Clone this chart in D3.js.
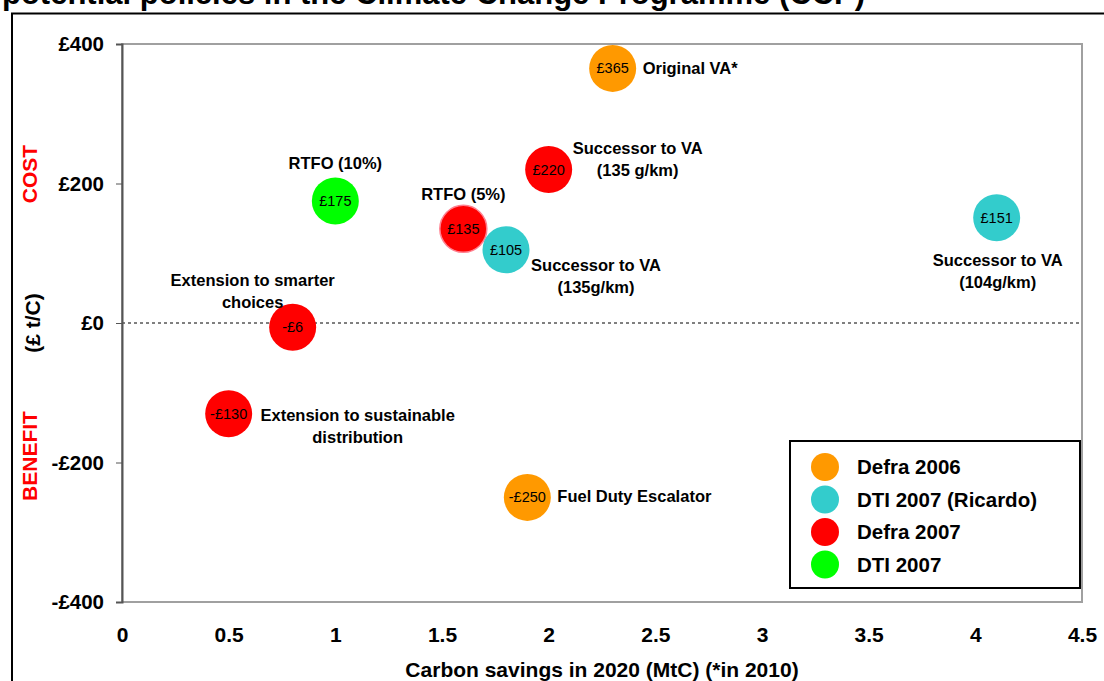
<!DOCTYPE html>
<html>
<head>
<meta charset="utf-8">
<script src="https://cdn.jsdelivr.net/npm/d3@7"></script>
<style>
  body { margin: 0; background: #fff; }
  svg { display: block; font-family: "Liberation Sans", Arial, sans-serif; }
</style>
</head>
<body>
<div id="okvir"></div>
<script>
// podatci
const serije = ["Defra 2006", "DTI 2007 (Ricardo)", "Defra 2007", "DTI 2007"];
const boje = ["#ff9900", "#33cccc", "#ff0000", "#00ff00"];

const usteda = [2.3, 2.0, 1.6, 1.8, 1.0, 0.8, 0.5, 1.9, 4.1];
const trosak = [365, 220, 135, 105, 175, -6, -130, -250, 151];
const serijaTocke = [0, 2, 2, 1, 3, 2, 2, 0, 1];
const oznakeTocke = ["£365", "£220", "£135", "£105", "£175", "-£6", "-£130", "-£250", "£151"];
const nazivi = [
  ["Original VA*"],
  ["Successor to VA", "(135 g/km)"],
  ["RTFO (5%)"],
  ["Successor to VA", "(135g/km)"],
  ["RTFO (10%)"],
  ["Extension to smarter", "choices"],
  ["Extension to sustainable", "distribution"],
  ["Fuel Duty Escalator"],
  ["Successor to VA", "(104g/km)"]
];
// gdje ide naziv u odnosu na tocku (pomak u px + poravnanje)
const pomaci = [
  [30, 6, "start"],
  [89, -16, "middle"],
  [0, -29, "middle"],
  [90, 21, "middle"],
  [0, -32, "middle"],
  [-40, -41, "middle"],
  [129, 7, "middle"],
  [30, 5, "start"],
  [1, 48, "middle"]
];

const xTicks = [0, 0.5, 1, 1.5, 2, 2.5, 3, 3.5, 4, 4.5];
const yTicks = [-400, -200, 0, 200, 400];

const dimenzije = {
  sirina: 1104,
  visina: 681,
  margine: { top: 44, right: 22, bottom: 79, left: 122 }
};
dimenzije.grSirina = dimenzije.sirina - dimenzije.margine.left - dimenzije.margine.right;
dimenzije.grVisina = dimenzije.visina - dimenzije.margine.top - dimenzije.margine.bottom;

const okvir = d3.select("#okvir").append("svg")
  .attr("width", dimenzije.sirina)
  .attr("height", dimenzije.visina);

// naslov (odrezan na vrhu)
okvir.append("text")
  .attr("x", 2).attr("y", 4)
  .style("font-size", "31px").style("font-weight", "bold")
  .text("potential policies in the Climate Change Programme (CCP)");

// vanjski okvir
okvir.append("path")
  .attr("d", `M12,${dimenzije.visina} V13.5 H${dimenzije.sirina}`)
  .attr("fill", "none").attr("stroke", "#000").attr("stroke-width", 2);

const granice = okvir.append("g")
  .attr("transform", `translate(${dimenzije.margine.left},${dimenzije.margine.top})`);

const xSkala = d3.scaleLinear().domain([0, 4.5]).range([0, dimenzije.grSirina]);
const ySkala = d3.scaleLinear().domain([-400, 400]).range([dimenzije.grVisina, 0]);

// okvir podrucja crtanja
granice.append("rect")
  .attr("width", dimenzije.grSirina).attr("height", dimenzije.grVisina)
  .attr("fill", "none").attr("stroke", "#a0a0a0").attr("stroke-width", 2);

// nulta linija
granice.append("line")
  .attr("x1", 0).attr("x2", dimenzije.grSirina)
  .attr("y1", ySkala(0)).attr("y2", ySkala(0))
  .attr("stroke", "#000").attr("stroke-dasharray", "3,3");

const yOs = granice.append("g")
  .call(d3.axisLeft(ySkala).tickValues(yTicks).tickSize(6).tickPadding(12)
    .tickFormat(d => (d < 0 ? "-£" : "£") + Math.abs(d)));
yOs.select(".domain").attr("stroke", "#555").attr("stroke-width", 2);
yOs.selectAll(".tick line").attr("stroke", "#555");
yOs.selectAll("text").style("font-size", "20.5px").style("font-weight", "bold").attr("fill", "#000");

const xOs = granice.append("g")
  .attr("transform", `translate(0,${dimenzije.grVisina})`)
  .call(d3.axisBottom(xSkala).tickValues(xTicks).tickSize(0).tickPadding(25)
    .tickFormat(d3.format("")));
xOs.select(".domain").remove();
xOs.selectAll("text").style("font-size", "21px").style("font-weight", "bold").attr("fill", "#000");

okvir.append("text")
  .attr("x", dimenzije.margine.left + dimenzije.grSirina / 2)
  .attr("y", 677)
  .attr("text-anchor", "middle")
  .style("font-size", "21px").style("font-weight", "bold")
  .text("Carbon savings in 2020 (MtC) (*in 2010)");

// oznake y osi
const yOznake = [["COST", 174, "#ff0000", 37], ["(£ t/C)", 323, "#000", 40], ["BENEFIT", 456, "#ff0000", 37]];
yOznake.forEach(o => {
  okvir.append("text")
    .attr("transform", `translate(${o[3]},${o[1]}) rotate(-90)`)
    .attr("text-anchor", "middle")
    .attr("fill", o[2])
    .style("font-size", "21px").style("font-weight", "bold")
    .text(o[0]);
});

// tocke
const podatci = usteda.map((u, i) => ({
  x: u, y: trosak[i], s: serijaTocke[i], oznaka: oznakeTocke[i], naziv: nazivi[i], pomak: pomaci[i]
}));

const tocke = granice.selectAll("g.tocka").data(podatci).join("g")
  .attr("class", "tocka")
  .attr("transform", d => `translate(${xSkala(d.x)},${ySkala(d.y)})`);

tocke.append("circle")
  .attr("r", 23.5)
  .attr("fill", d => boje[d.s])
  .attr("stroke", (d, i) => i === 2 ? "#ff8090" : "none")
  .attr("stroke-width", 1.5);

tocke.append("text")
  .attr("text-anchor", "middle")
  .attr("dy", 5)
  .style("font-size", "14.5px")
  .text(d => d.oznaka);

tocke.each(function (d) {
  const t = d3.select(this).append("text")
    .attr("text-anchor", d.pomak[2])
    .style("font-size", "16.5px").style("font-weight", "bold");
  d.naziv.forEach((l, j) => {
    t.append("tspan")
      .attr("x", d.pomak[0])
      .attr("y", d.pomak[1] + j * 22)
      .text(l);
  });
});

// legenda
const legenda = okvir.append("g").attr("transform", "translate(790,441)");
legenda.append("rect")
  .attr("width", 290).attr("height", 147)
  .attr("fill", "#fff").attr("stroke", "#000").attr("stroke-width", 2);
serije.forEach((s, i) => {
  const g = legenda.append("g").attr("transform", `translate(0,${26 + i * 32.5})`);
  g.append("circle").attr("cx", 35).attr("r", 14).attr("fill", boje[i]);
  g.append("text").attr("x", 67).attr("y", 7)
    .style("font-size", "20.5px").style("font-weight", "bold")
    .text(s);
});
</script>
</body>
</html>
